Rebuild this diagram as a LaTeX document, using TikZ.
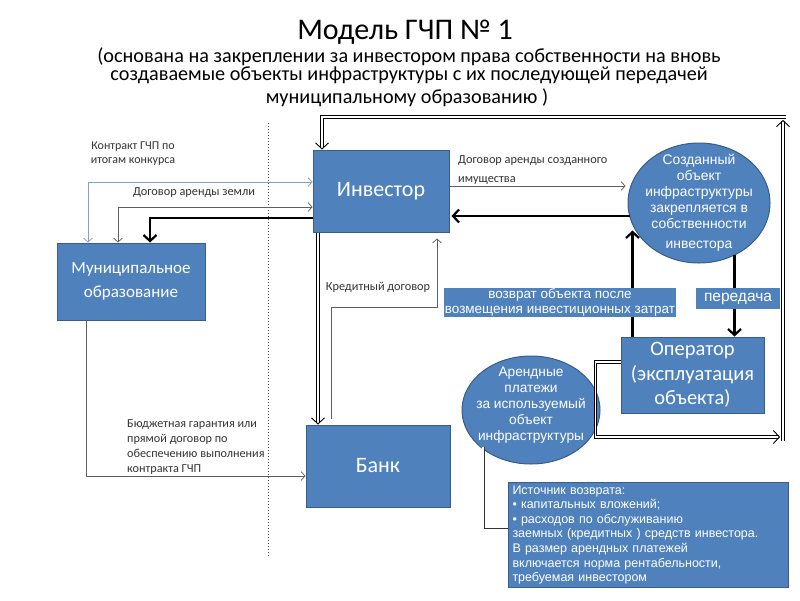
\documentclass[tikz,border=0pt]{standalone}
\usepackage{fontspec}
\setmainfont{Carlito}
\newfontfamily\arialfont{Liberation Sans}
\usetikzlibrary{arrows.meta,shapes.geometric}
\definecolor{blockblue}{RGB}{79,129,189}
\definecolor{blockline}{RGB}{56,93,138}
\definecolor{linegray}{RGB}{95,95,95}
\definecolor{contractblue}{RGB}{130,160,200}

\begin{document}
\begin{tikzpicture}[x=1pt,y=-1pt]
  \useasboundingbox (0,0) rectangle (800,600);

  \tikzstyle{block} = [
    rectangle,
    draw=blockline,
    fill=blockblue,
    text=white,
    line width=1pt,
    align=center,
    inner sep=2pt
  ]
  \tikzstyle{roundblock} = [
    ellipse,
    draw=blockline,
    fill=blockblue,
    line width=1pt,
    inner sep=0pt
  ]
  \tikzstyle{tag} = [
    rectangle,
    fill=blockblue,
    text=white,
    align=center,
    inner sep=1pt,
    font=\arialfont\fontsize{13.5}{15}\selectfont
  ]
  \tikzstyle{edgelabel} = [
    draw=none,
    text=black!80,
    inner sep=0pt
  ]

  \tikzstyle{thinarrow} = [draw=linegray, line width=0.7pt, -{Straight Barb[length=4pt,width=9pt]}]
  \tikzstyle{thickarrow} = [draw=black, line width=2.2pt, -{Straight Barb[length=6pt,width=13pt]}]
  \tikzstyle{dblline} = [draw=black!80, line width=0.7pt, double=white, double distance=1.6pt]

  % title
  \node[anchor=base, font=\fontsize{30}{36}\selectfont] (title) at (405,39) {Модель ГЧП № 1};
  \node[align=center, inner sep=0pt, font=\fontsize{20.2}{16}\selectfont] (subtitle) at (409,65.5) {(основана на закреплении за инвестором права собственности на вновь\\создаваемые объекты инфраструктуры с их последующей передачей};
  \node[anchor=base, font=\fontsize{20.2}{22}\selectfont] (subtitleEnd) at (407,103) {муниципальному образованию )};

  % divider
  \coordinate (divTop) at (268,123);
  \coordinate (divBottom) at (268,557);
  \draw[dotted, line width=1pt, black!70] (divTop) -- (divBottom);

  % parties
  \node[block, minimum width=148, minimum height=77, font=\fontsize{17}{24}\selectfont] (munic) at (131,281.5) {Муниципальное\\образование};
  \node[block, minimum width=136, minimum height=82, font=\fontsize{22}{24}\selectfont] (invest) at (381,191) {Инвестор};
  \node[block, minimum width=144, minimum height=82, font=\fontsize{22}{24}\selectfont] (bank) at (378,466) {Банк};
  \node[block, minimum width=143, minimum height=76, font=\fontsize{20.5}{24.5}\selectfont] (oper) at (692.5,375) {Оператор\\(эксплуатация\\объекта)};

  % objects
  \node[roundblock, minimum width=142, minimum height=120,
    label={[text=white, align=center, font=\arialfont\fontsize{13.9}{16}\selectfont]center:{Созданный\\объект\\инфраструктуры\\закрепляется в\\собственности\\[4pt]инвестора}}] (created) at (699,203) {};
  \node[roundblock, minimum width=138, minimum height=108,
    label={[text=white, align=center, yshift=5pt, font=\arialfont\fontsize{13.7}{16}\selectfont]center:{Арендные\\платежи\\за используемый\\объект\\инфраструктуры}}] (arend) at (531,410) {};
  \node[block, anchor=north west, text width=272, align=left, minimum width=280, minimum height=101, inner sep=3pt, font=\arialfont\fontsize{12.5}{14.6}\selectfont] (source) at (508,482) {Источник возврата:\\
    • капитальных вложений;\\
    • расходов по обслуживанию\\
    заемных (кредитных ) средств инвестора.\\
    В размер арендных платежей\\
    включается норма рентабельности,\\
    требуемая инвестором};

  % loop corners
  \coordinate (loopSE) at (783,437);
  \coordinate (loopNE) at (783,117);

  % municipal - investor
  \draw[thinarrow, draw=contractblue, {Straight Barb[length=4pt,width=9pt]}-{Straight Barb[length=4pt,width=9pt]}] ([yshift=9pt]invest.west) -| ([xshift=-43pt]munic.north);
  \draw[thinarrow, {Straight Barb[length=4pt,width=9pt]}-{Straight Barb[length=4pt,width=9pt]}] ([yshift=-16pt]invest.west) -| ([xshift=-13pt]munic.north);
  \draw[thickarrow] ([yshift=-27pt]invest.west) -| ([xshift=19pt]munic.north);
  \node[edgelabel, align=center, font=\fontsize{12}{14}\selectfont] (contractLabel) at (133,154) {Контракт ГЧП по\\итогам конкурса};
  \node[edgelabel, font=\fontsize{12.3}{14}\selectfont] (landLabel) at (194,193) {Договор аренды  земли};

  % municipal - bank
  \draw[thinarrow] ([xshift=-45pt]munic.south) |- ([yshift=-10pt]bank.west);
  \node[edgelabel, anchor=west, align=left, font=\fontsize{12.2}{15}\selectfont] (guaranteeLabel) at (127,447) {Бюджетная гарантия или\\прямой договор по\\обеспечению выполнения\\контракта ГЧП};

  % investor - bank
  \draw[dblline, thickarrow, line width=0.9pt, double distance=1.6pt] ([xshift=-63pt]invest.south) -- ([xshift=-60pt]bank.north);
  \draw[thinarrow, shorten <=6pt, shorten >=6pt] ([xshift=-47pt]bank.north) -- ++(0,-117) -| ([xshift=56pt]invest.south);
  \node[edgelabel, font=\fontsize{12.3}{14}\selectfont] (creditLabel) at (378,287) {Кредитный договор};

  % investor - created object
  \draw[thinarrow, shorten >=2pt] ([yshift=5pt]invest.east) -- ([yshift=5pt]invest.east -| created.west);
  \draw[thickarrow] ([yshift=-13pt,xshift=2pt]created.west) -- ([yshift=-13pt,xshift=2pt]created.west -| invest.east);
  \node[edgelabel, anchor=west, align=left, font=\fontsize{12.3}{19}\selectfont] (leaseLabel) at (458,170) {Договор аренды созданного\\имущества};

  % created object - operator
  \draw[thickarrow] ([xshift=-60pt]oper.north) -- ++(0,-106);
  \draw[thickarrow] ([xshift=42pt,yshift=82pt]oper.north) -- ([xshift=42pt]oper.north);
  \node[tag] (returnTag) at (560,302.5) {возврат объекта после\\возмещения инвестиционных затрат};
  \node[tag, minimum width=84, minimum height=21, font=\arialfont\fontsize{15.5}{17}\selectfont] (transferTag) at (738,298.5) {передача};

  % payment loop
  \draw[dblline, thickarrow, line width=0.9pt] ([yshift=13pt]oper.west) -- ++(-25,0) -- ++(0,75) -- ([xshift=-3pt]loopSE);
  \draw[dblline, thickarrow, line width=0.9pt] ([yshift=-4pt]loopSE) -- ([yshift=-3pt]loopNE);
  \draw[dblline, thickarrow, line width=0.9pt] ([xshift=3pt]loopNE) -| ([xshift=-59pt]invest.north);
  \draw[dblline] ([xshift=-48pt,yshift=-37pt]arend.center) |- ([yshift=5pt]source.west);
\end{tikzpicture}
\end{document}
